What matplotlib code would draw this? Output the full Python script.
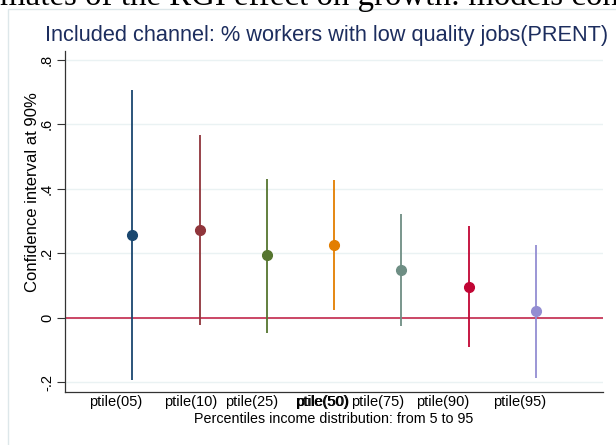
import matplotlib
matplotlib.use("Agg")
import matplotlib.pyplot as plt
from matplotlib.patches import Rectangle

# Point estimates and 90% confidence bounds by income percentile
categories = ["ptile(05)", "ptile(10)", "ptile(25)", "ptile(50)", "ptile(75)", "ptile(90)", "ptile(95)"]
estimates = [0.257, 0.273, 0.193, 0.226, 0.149, 0.096, 0.021]
ci_low = [-0.194, -0.022, -0.048, 0.025, -0.025, -0.092, -0.186]
ci_high = [0.708, 0.566, 0.432, 0.426, 0.323, 0.283, 0.226]
positions = [1, 2, 3, 4, 5, 6, 7]
label_positions = [0.76, 1.87, 2.77, 3.81, 4.65, 5.61, 6.76]
y_ticks = [-0.2, 0.0, 0.2, 0.4, 0.6, 0.8]
y_tick_labels = ["-.2", "0", ".2", ".4", ".6", ".8"]
colors = ["#1a476f", "#90353b", "#55752f", "#e37e00", "#6e8e84", "#c10534", "#938dd2"]

W, H = 616, 445
fig = plt.figure(figsize=(W / 100, H / 100), dpi=100)
fig.patch.set_facecolor("white")

# outer graph-region frame
fig.patches.append(Rectangle((8 / W, -0.1), 1.0, 1.0 - 9 / H + 0.1, transform=fig.transFigure,
                             fill=False, edgecolor="#dde7ea", linewidth=1.0))

# page heading above the graph
fig.text(0 / W, 1 - 5 / H, "mates of the RGI effect on growth: models controlling",
         family="Liberation Serif", fontsize=23.7, color="black", ha="left", va="baseline")

left, right, top, bottom = 65, 603, 51, 392
ax = fig.add_axes([left / W, 1 - bottom / H, (right - left) / W, (bottom - top) / H])
ax.set_xlim(0, 8)
ax.set_ylim(-0.231, 0.828)

for y in y_ticks:
    ax.axhline(y, color="#eaf2f3", linewidth=1.0, zorder=0)
ax.axhline(0, color="#c8385a", linewidth=1.3, zorder=1)

for x, est, lo, hi, c in zip(positions, estimates, ci_low, ci_high, colors):
    ax.vlines(x, lo, hi, color=c, linewidth=1.3, zorder=2)
    ax.plot(x, est, "o", color=c, markersize=7, zorder=3)

font = "Liberation Sans"
ax.set_yticks(y_ticks)
ax.set_yticklabels(y_tick_labels, rotation=90, va="center", family=font, fontsize=10.5)
ax.tick_params(axis="y", length=6, width=0.8, color="#333333", pad=2)
ax.set_xticks(label_positions)
ax.set_xticklabels(categories, family=font, fontsize=10.5)
ax.tick_params(axis="x", length=0, pad=2.5)
# the 50th-percentile label is printed twice, slightly offset
ax.annotate(categories[3], xy=(label_positions[3], 0), xycoords=("data", "axes fraction"),
            xytext=(0.8, -2.5), textcoords="offset points", ha="center", va="top",
            family=font, fontsize=10.5)

for s in ["top", "right"]:
    ax.spines[s].set_visible(False)
for s in ["left", "bottom"]:
    ax.spines[s].set_color("#333333")
    ax.spines[s].set_linewidth(0.9)

ax.set_xlabel("Percentiles income distribution: from 5 to 95", family=font, fontsize=10.3, labelpad=1.5)
fig.text(33 / W, 1 - 192 / H, "Confidence interval at 90%", rotation=90,
         family=font, fontsize=12, ha="center", va="center")

fig.text(45 / W, 1 - 36 / H, "Included channel: % workers with low quality jobs(PRENT)",
         family=font, fontsize=15.7, color="#1c2d5e", ha="left", va="center")

fig.savefig("out.png", dpi=100, facecolor="white")
